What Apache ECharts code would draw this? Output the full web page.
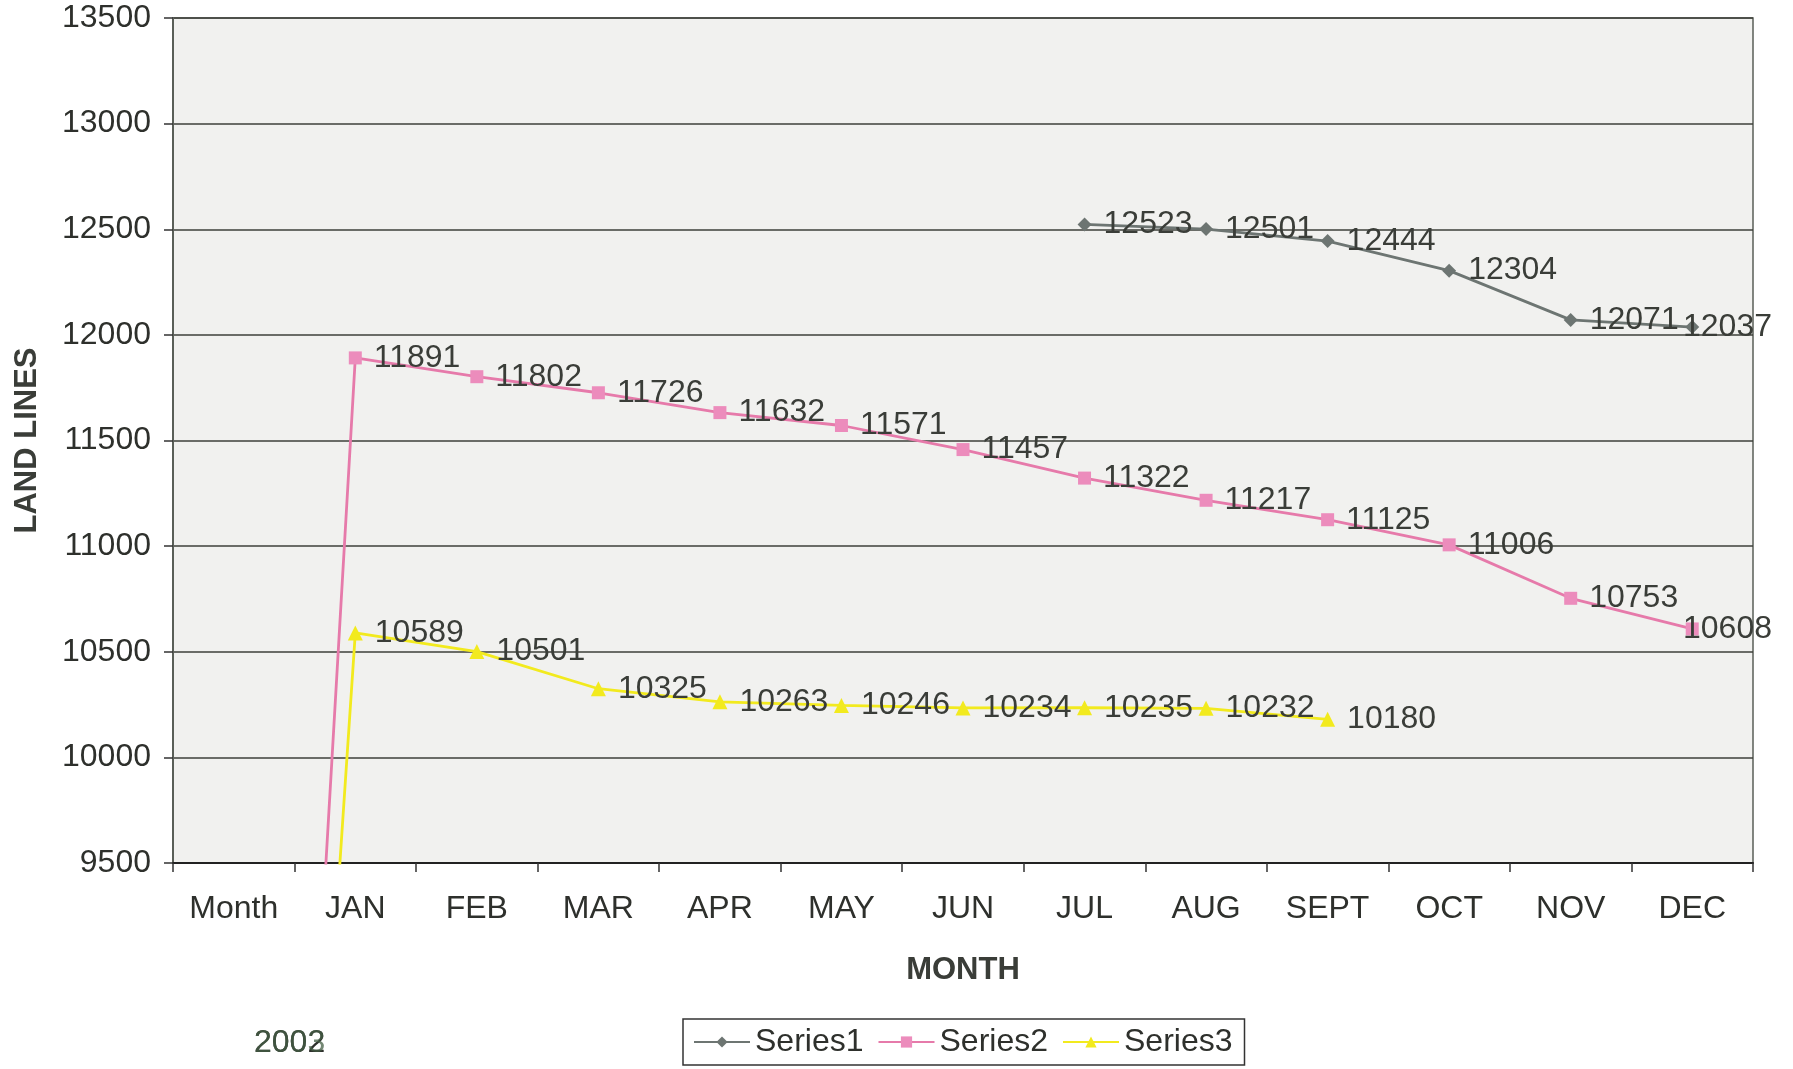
<!DOCTYPE html>
<html>
<head>
<meta charset="utf-8">
<script src="https://cdn.jsdelivr.net/npm/echarts@6/dist/echarts.min.js"></script>
<style>
html,body{margin:0;padding:0;background:#fff;}
#c{width:1793px;height:1069px;}
</style>
</head>
<body>
<div id="c"></div>
<script>
const categories = ['Month','JAN','FEB','MAR','APR','MAY','JUN','JUL','AUG','SEPT','OCT','NOV','DEC'];
const series1 = [null,null,null,null,null,null,null,12523,12501,12444,12304,12071,12037];
const series2 = [2002,11891,11802,11726,11632,11571,11457,11322,11217,11125,11006,10753,10608];
const series3 = [2003,10589,10501,10325,10263,10246,10234,10235,10232,10180,null,null,null];
const yearLabels = ['2002','2003'];
const yMin = 9500, yMax = 13500, yStep = 500;

const FONT = 'Liberation Sans, Arial, sans-serif';
const FS = 32;
const RIGHT_LIMIT = 1772;
const labelCfg = {
  show: true, position: 'right', distance: 12,
  fontFamily: FONT, fontSize: FS, color: '#3a3d38',
  formatter: p => (p.value == null || p.value < yMin) ? '' : String(p.value)
};
const clampLayout = p => {
  const over = p.labelRect.x + p.labelRect.width - RIGHT_LIMIT;
  return over > 0 ? {dx: -over} : {};
};

const chart = echarts.init(document.getElementById('c'), null, {renderer:'canvas'});
chart.setOption({
  backgroundColor: '#ffffff',
  animation: false,
  grid: {left:173, right:40, top:18, bottom:206, show:true, backgroundColor:'#f1f1ef',
         borderColor:'#5a5f58', borderWidth:1.5, containLabel:false, outerBoundsMode:'none'},
  xAxis: {
    type:'category', data: categories, boundaryGap:true,
    name:'MONTH', nameLocation:'middle', nameGap:92,
    nameTextStyle:{fontFamily:FONT, fontSize:31, fontWeight:'bold', color:'#3a3d38'},
    axisLine:{lineStyle:{color:'#222', width:2}},
    axisTick:{show:true, length:9, alignWithLabel:false, lineStyle:{color:'#333', width:1.5}},
    axisLabel:{fontFamily:FONT, fontSize:FS, color:'#2e302c', margin:30}
  },
  yAxis: {
    type:'value', min:yMin, max:yMax, interval:yStep,
    name:'LAND LINES', nameLocation:'middle', nameGap:130,
    nameTextStyle:{fontFamily:FONT, fontSize:31, fontWeight:'bold', color:'#3a3d38'},
    axisLine:{show:true, lineStyle:{color:'#5a5f58', width:2}},
    axisTick:{show:true, length:9, lineStyle:{color:'#333', width:1.5}},
    axisLabel:{fontFamily:FONT, fontSize:FS, color:'#2e302c', margin:22, formatter: v => String(v)},
    splitLine:{lineStyle:{color:'#3c3f3a', width:1.5}}
  },
  legend: {
    left:683, top:1019,
    padding:[7,12,7,10],
    borderColor:'#333', borderWidth:1.5, backgroundColor:'#fff',
    itemWidth:56, itemHeight:14, itemGap:14,
    textStyle:{fontFamily:FONT, fontSize:FS, color:'#2e302c'},
    data:['Series1','Series2','Series3']
  },
  graphic: yearLabels.map((t,i)=>({
    type:'text', left:254, top:1027,
    style:{text:t, fontFamily:FONT, fontSize:FS, fill: i===0 ? '#2e302c' : 'rgba(70,95,70,0.75)'}
  })),
  series: [
    {name:'Series1', type:'line', data:series1, clip:true,
     symbol:'diamond', symbolSize:14,
     lineStyle:{color:'#6d7572', width:2.8}, itemStyle:{color:'#6d7572'},
     label:labelCfg, labelLayout:clampLayout},
    {name:'Series2', type:'line', data:series2, clip:true,
     symbol:'rect', symbolSize:13,
     lineStyle:{color:'#e67aaa', width:2.8}, itemStyle:{color:'#ec8cbc'},
     label:labelCfg, labelLayout:clampLayout},
    {name:'Series3', type:'line', data:series3, clip:true,
     symbol:'triangle', symbolSize:15,
     lineStyle:{color:'#f2ea1e', width:2.8}, itemStyle:{color:'#f2ea1e'},
     label:labelCfg, labelLayout:clampLayout}
  ]
});
</script>
</body>
</html>
